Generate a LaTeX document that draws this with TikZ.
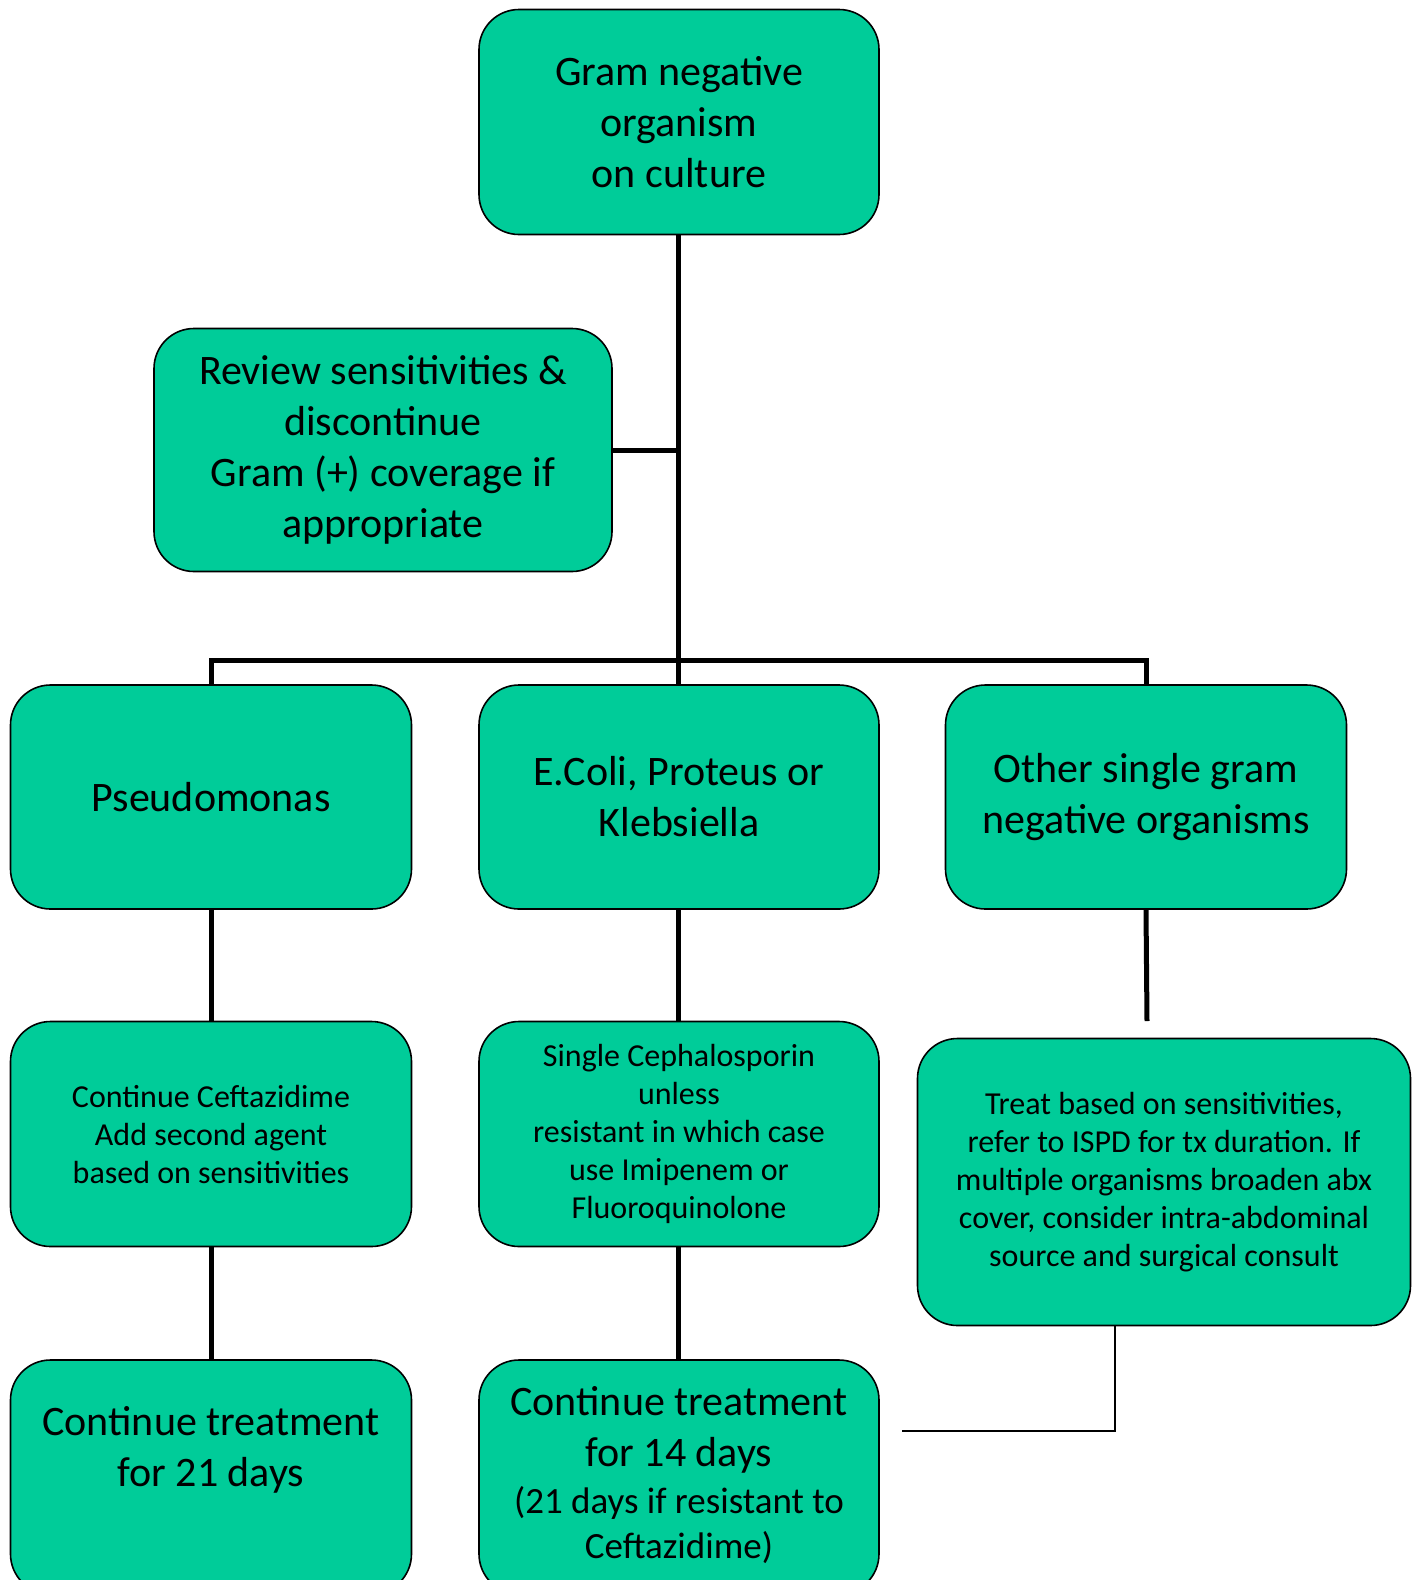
\documentclass[tikz,border=0pt]{standalone}
\usepackage{fontspec}
\setmainfont{Carlito}
\definecolor{gramgreen}{RGB}{0,204,153}
\begin{document}
\begin{tikzpicture}[x=1pt, y=-1pt,
    box/.style={rectangle, rounded corners=40pt, draw=black, line width=1.6pt, fill=gramgreen, align=center, inner sep=0pt},
    big/.style={font=\fontsize{42}{51}\selectfont},
    small/.style={font=\fontsize{32}{38}\selectfont},
    link/.style={line width=5pt}]
    \useasboundingbox (0,0) rectangle (1421,1580);
    \clip (0,0) rectangle (1421,1580);
    % top and review
    \node [box, big, minimum width=400pt, minimum height=225pt] (g) at (679,122) {Gram negative\\organism\\on culture};
    \node [box, big, minimum width=458pt, minimum height=243pt] (r) at (383,450) {Review sensitivities \&\\discontinue\\Gram (+) coverage if\\appropriate};
    % organisms
    \node [box, big, minimum width=401pt, minimum height=224pt] (p) at (211,797) {Pseudomonas};
    \node [box, big, minimum width=400pt, minimum height=224pt] (e) at (679,797) {E.Coli, Proteus or\\Klebsiella};
    \node [box, big, minimum width=401pt, minimum height=224pt] (o) at (1146,797) {Other single gram\\negative organisms};
    % treatment
    \node [box, small, minimum width=401pt, minimum height=225pt] (pc) at (211,1134) {Continue Ceftazidime\\Add second agent\\based on sensitivities};
    \node [box, small, minimum width=400pt, minimum height=225pt] (ec) at (679,1134) {Single Cephalosporin\\unless\\resistant in which case\\use Imipenem or\\Fluoroquinolone};
    \node [box, small, minimum width=493pt, minimum height=287pt] (oc) at (1164,1182) {Treat based on sensitivities,\\refer to ISPD for tx duration. If\\multiple organisms broaden abx\\cover, consider intra-abdominal\\source and surgical consult};
    % duration
    \node [box, minimum width=401pt, minimum height=234pt] (pd) at (211,1477) {};
    \node [big, align=center] (pdt) at (211,1450) {Continue treatment\\for 21 days};
    \node [box, minimum width=400pt, minimum height=234pt] (ed) at (679,1477) {};
    \node [big, align=center] (edt) at (679,1430) {Continue treatment\\for 14 days};
    \node [font=\fontsize{37}{45}\selectfont, align=center] (edn) at (679,1525) {(21 days if resistant to\\Ceftazidime)};
    % connectors
    \coordinate (bus) at (678,660);
    \coordinate (oend) at (1147,1021);
    \coordinate (cturn) at (1115,1431);
    \coordinate (cend) at (902,1431);
    \draw [link] (g.south -| bus) -- (bus);
    \draw [link] (r.east) -- (r.east -| bus);
    \draw [link] (p.north) |- (bus) -| (o.north);
    \draw [link] (bus) -- (e.north -| bus);
    \draw [link] (p.south) -- (pc.north);
    \draw [link] (e.south -| bus) -- (ec.north -| bus);
    \draw [link] (o.south) -- (oend);
    \draw [link] (pc.south) -- (pd.north);
    \draw [link] (ec.south -| bus) -- (ed.north -| bus);
    \draw [line width=2pt] (oc.south -| cturn) -- (cturn) -- (cend);
\end{tikzpicture}
\end{document}
